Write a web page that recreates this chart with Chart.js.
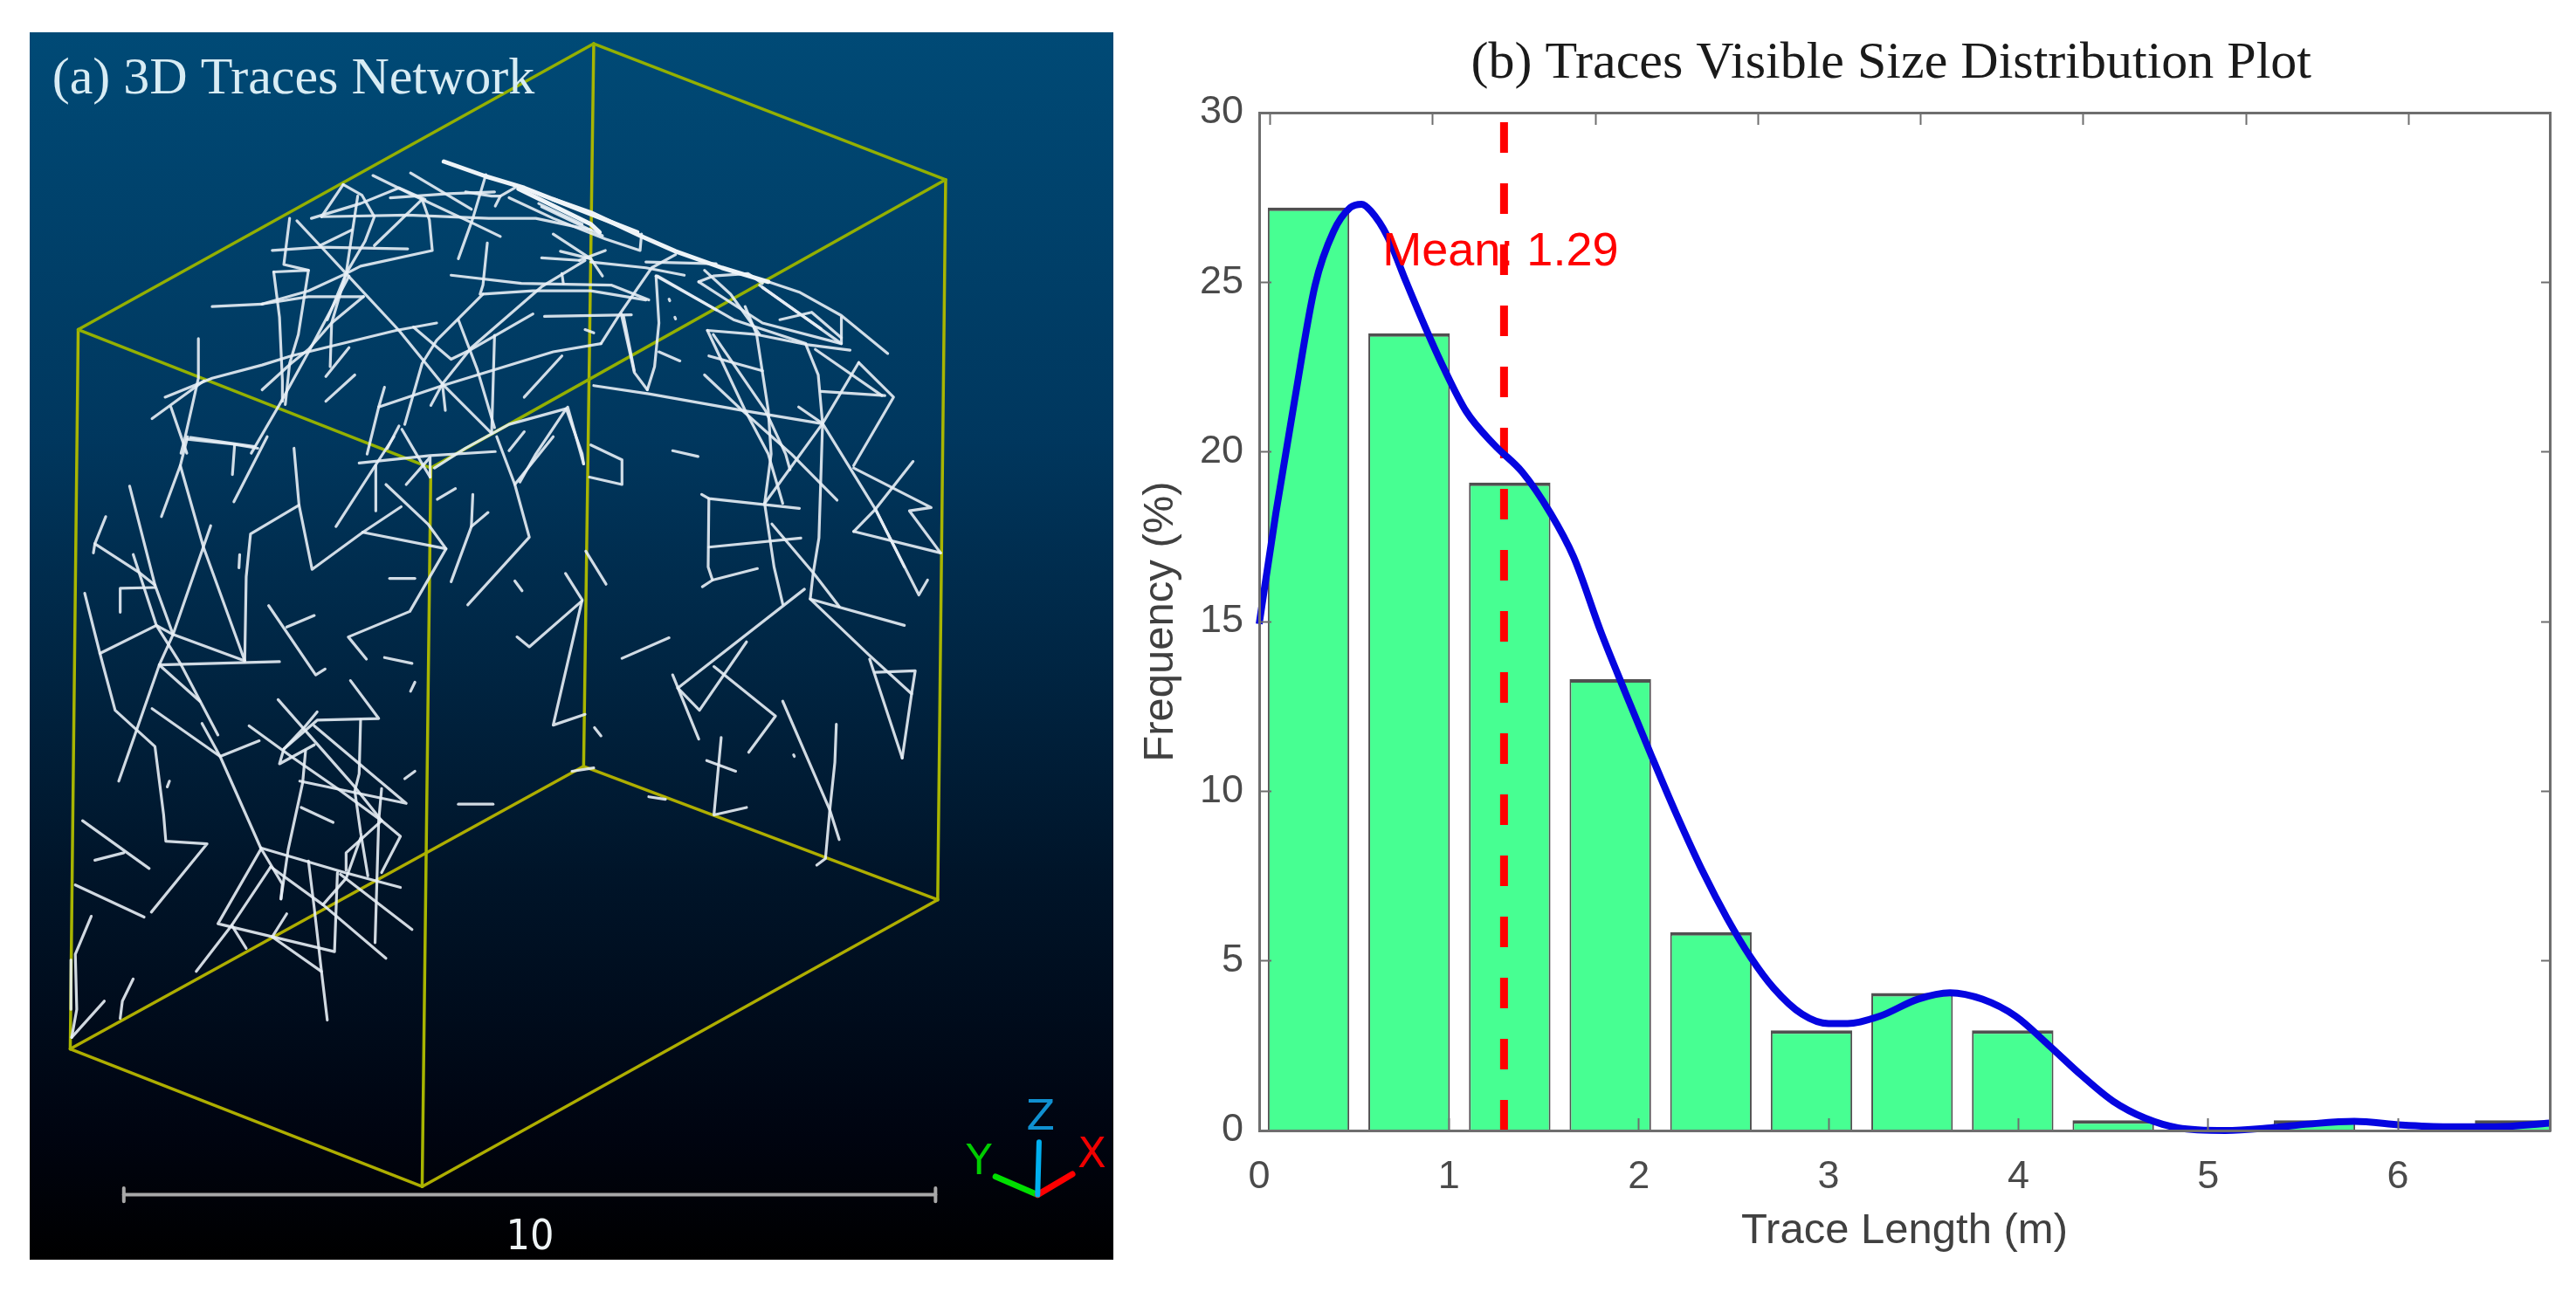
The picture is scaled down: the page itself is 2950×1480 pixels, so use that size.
<!DOCTYPE html>
<html>
<head>
<meta charset="utf-8">
<title>Traces network and size distribution</title>
<script src="https://cdn.jsdelivr.net/npm/chart.js@4/dist/chart.umd.min.js"></script>
<style>
  html, body { margin: 0; padding: 0; background: #fff; overflow: hidden; }
  #wrap { position: relative; width: 2950px; height: 1480px; }
  #netChart { position: absolute; left: 34px; top: 37px;
    background: linear-gradient(to bottom, #004a76 0%, #00375e 33%, #00152a 68%, #000410 90%, #000 100%); }
  #distChart { position: absolute; left: 1290px; top: 0; }
</style>
</head>
<body>
<div id="wrap">
  <canvas id="netChart" width="1241" height="1406"></canvas>
  <canvas id="distChart" width="1660" height="1480"></canvas>
</div>
<script>
/* ── (b) 히스토그램 데이터 ── */
const binCenters = [0.26, 0.79, 1.32, 1.85, 2.38, 2.91, 3.44, 3.97, 4.50, 5.03, 5.56, 6.09, 6.62];
const binFreq    = [27.2, 23.5, 19.1, 13.3, 5.85, 2.95, 4.05, 2.95, 0.3, 0, 0.3, 0, 0.3];
const curveX = [0, 0.088, 0.186, 0.294, 0.392, 0.48, 0.54, 0.588, 0.676, 0.775, 0.873, 0.97, 1.09, 1.24, 1.387, 1.534, 1.657, 1.80, 1.926,
  2.07, 2.196, 2.34, 2.466, 2.59, 2.71, 2.86, 3.0, 3.10, 3.27, 3.47, 3.64, 3.81, 3.985, 4.157, 4.33, 4.50, 4.67, 4.84, 5.09, 5.33, 5.53, 5.77, 6.02, 6.26, 6.51, 6.8];
const curveY = [14.93, 18.2, 21.5, 24.9, 26.5, 27.2, 27.3, 27.1, 26.35, 25.0, 23.7, 22.5, 21.2, 20.2, 19.4, 18.2, 16.9, 14.7, 12.95,
  11.0, 9.35, 7.6, 6.25, 5.1, 4.2, 3.43, 3.15, 3.15, 3.37, 3.87, 4.06, 3.87, 3.37, 2.53, 1.64, 0.86, 0.36, 0.08, 0, 0.08, 0.19, 0.27, 0.16, 0.11, 0.11, 0.22];
const meanValue = 1.29;
const xTicks = [0, 1, 2, 3, 4, 5, 6];
const yTicks = [0, 5, 10, 15, 20, 25, 30];

/* ── (a) 3D 네트워크 데이터 (화면 좌표 단위) ── */
const boxTop     = [[[820,53],[1306,218]], [[820,53],[108,400]], [[108,400],[595,568]], [[595,568],[1306,218]]];
const boxPillars = [[[108,400],[97,1273]], [[595,568],[583,1440]], [[1306,218],[1295,1092]], [[820,53],[806,930]]];
const boxBottom  = [[[97,1273],[583,1440]], [[583,1440],[1295,1092]], [[97,1273],[806,930]], [[806,930],[1295,1092]]];
const scaleBar   = [[[171,1450],[1292,1450]], [[171,1442],[171,1458]], [[1292,1442],[1292,1458]]];
const axisOrigin = [1433, 1450];
const axisZ = [1435, 1386];
const axisY = [1375, 1428];
const axisX = [1481, 1425];

// 윗면 능선의 두꺼운 띠
const ridgeLines = [
  [[613,196],[671,214],[724,228],[764,242],[816,258],[884,286],[933,305],[997,325],[1061,342]],
  [[764,242],[880,282]],
  [[716,229],[816,272],[828,282]]
];

const traceLines = [
  // 윗면 능선 주변
  [[1061,342],[1105,355],[1162,383],[1226,429]],
  [[703,240],[764,265],[836,290],[884,304],[886,284]],
  [[744,247],[804,272]],
  [[748,251],[832,286]],
  [[515,213],[571,237],[651,270],[691,287]],
  [[567,210],[651,254]],
  // 윗면 왼쪽
  [[474,224],[444,263]],
  [[474,224],[500,237],[517,263],[504,293],[478,332],[452,388]],
  [[444,263],[563,261],[675,265],[740,265],[816,279]],
  [[430,265],[498,247],[551,228],[587,242]],
  [[539,240],[619,235],[683,233]],
  [[583,242],[517,298]],
  [[583,242],[593,267],[597,304],[498,323],[478,332],[426,353],[362,369]],
  [[494,238],[478,332],[458,392],[456,445]],
  [[410,268],[442,298],[478,332],[551,401],[611,466],[679,526]],
  [[400,265],[392,321],[426,328]],
  [[376,304],[442,300],[563,302]],
  [[442,298],[486,279]],
  [[378,330],[426,328],[412,406],[400,441],[394,491]],
  [[378,330],[386,385],[390,462],[390,487]],
  [[362,369],[426,360],[502,360]],
  [[293,372],[362,369]],
  [[482,335],[428,424],[386,491],[347,550]],
  [[502,360],[458,392],[426,424],[402,441],[362,473]],
  [[228,482],[293,459],[362,443],[402,432],[547,401],[603,392]],
  [[482,422],[450,457]],
  [[490,455],[450,487]],
  [[531,470],[523,494],[507,551]],
  [[523,494],[611,468],[764,427],[830,417]],
  [[571,397],[623,436],[651,424],[736,381]],
  [[611,466],[651,422],[748,348],[808,316]],
  [[633,388],[659,448],[683,519]],
  [[667,357],[603,413],[583,441],[559,515]],
  [[673,295],[667,346],[663,357]],
  [[671,212],[653,265],[633,314]],
  [[623,334],[720,344],[844,346],[896,364]],
  [[667,357],[736,353],[816,353],[892,364]],
  [[752,384],[872,382]],
  [[748,313],[800,316]],
  [[764,284],[816,314],[832,335]],
  [[774,305],[816,314]],
  [[836,304],[800,316]],
  [[776,332],[778,344]],
  [[816,318],[892,325],[945,334]],
  [[892,318],[989,320]],
  [[933,309],[900,325],[856,381],[830,417]],
  [[858,381],[876,452],[894,473]],
  [[906,335],[910,392],[904,445],[894,473]],
  [[906,335],[989,376]],
  [[910,427],[939,438]],
  [[820,468],[896,478],[1025,498],[1134,514]],
  [[776,432],[724,482]],
  [[808,400],[820,404]],
  [[924,363],[925,365]],
  [[932,385],[933,387]],
  [[782,496],[703,515],[643,544],[600,568]],
  [[782,496],[740,551],[718,585]],
  [[782,496],[804,551],[806,563]],
  [[724,524],[703,547]],
  [[611,466],[595,492]],
  [[611,466],[615,498]],
  [[551,517],[535,544]],
  [[555,521],[575,551],[594,579]],
  [[683,407],[679,526]],
  [[274,411],[274,459],[255,533],[250,550]],
  [[210,508],[282,462]],
  [[236,494],[258,550]],
  [[263,531],[352,542]],
  [[684,250],[691,238]],
  [[643,233],[679,238],[691,238],[711,228]],
  // 윗면 오른쪽
  [[965,342],[985,335],[1033,332],[1053,344]],
  [[965,342],[1053,392],[1162,417]],
  [[973,328],[1009,357],[1049,406]],
  [[1049,346],[1162,417],[1162,385]],
  [[1053,349],[1134,399]],
  [[1029,372],[1045,406],[1061,498],[1065,551],[1056,611]],
  [[908,335],[1013,388],[1113,417]],
  [[1077,388],[1121,379],[1162,410]],
  [[977,401],[1045,406],[1113,418],[1174,425]],
  [[977,401],[1029,498],[1061,551],[1081,611]],
  [[985,406],[1057,498],[1085,551],[1091,570]],
  [[979,432],[1053,450]],
  [[973,455],[1025,498],[1093,551],[1156,607]],
  [[1113,418],[1130,455],[1136,514],[1131,653],[1123,696],[1119,727],[1199,794],[1259,842],[1246,920]],
  [[1126,424],[1218,480]],
  [[1134,475],[1222,480]],
  [[1186,440],[1234,482],[1179,565]],
  [[1186,440],[1136,514],[1056,611]],
  [[1103,494],[1136,514],[1209,618],[1249,688]],
  [[1179,568],[1286,616],[1256,620],[1299,671]],
  [[1261,560],[1209,618],[1179,645]],
  [[929,547],[964,554]],
  [[816,540],[859,558],[859,588],[814,579]],
  [[784,494],[806,563]],
  [[861,383],[876,450]],
  // 왼쪽 면 중간
  [[406,544],[413,613],[431,691],[501,646],[554,615]],
  [[413,613],[346,648],[340,700],[338,802]],
  [[533,588],[591,636],[616,666],[566,742],[481,773],[506,800]],
  [[501,646],[616,666]],
  [[179,590],[214,710],[239,770]],
  [[249,565],[281,664],[338,802]],
  [[291,638],[239,770],[220,807],[164,948]],
  [[223,627],[249,565],[259,530]],
  [[146,627],[131,660],[191,694],[214,710]],
  [[131,660],[129,671]],
  [[184,673],[216,759],[249,805],[301,892]],
  [[166,743],[166,714],[214,713]],
  [[117,720],[138,793],[159,862],[214,906],[226,989],[229,1021],[286,1024],[209,1107]],
  [[138,793],[216,759],[239,770],[338,802]],
  [[220,807],[386,803]],
  [[220,807],[276,851]],
  [[210,860],[304,918],[360,1029]],
  [[279,878],[304,918]],
  [[304,918],[358,899]],
  [[371,735],[436,819],[449,812]],
  [[396,761],[434,747]],
  [[538,702],[573,702]],
  [[531,798],[569,805]],
  [[573,828],[567,839]],
  [[484,826],[523,872],[438,874],[392,909]],
  [[331,673],[330,689]],
  [[234,948],[231,955]],
  [[653,600],[651,639],[623,706]],
  [[674,622],[651,639]],
  [[686,530],[711,588],[731,652],[646,734]],
  [[604,606],[629,593]],
  [[561,588],[594,555],[594,579]],
  [[711,705],[721,717]],
  [[714,773],[731,785],[804,729]],
  [[781,696],[804,728],[764,880],[808,867]],
  [[496,562],[594,553],[684,548]],
  [[519,565],[519,620]],
  [[464,639],[544,530]],
  [[259,533],[321,539],[356,544]],
  [[324,540],[321,576]],
  [[369,530],[323,609]],
  [[711,588],[764,530]],
  [[114,996],[206,1054]],
  [[131,1044],[171,1035]],
  // 왼쪽 면 아래 (조밀한 구간)
  [[384,849],[490,955],[527,996]],
  [[438,864],[420,883],[392,909],[386,927],[434,904]],
  [[344,881],[402,918],[466,957],[527,996],[553,1015],[527,1059]],
  [[434,881],[561,975],[414,948]],
  [[422,911],[418,950],[398,1031],[388,1091]],
  [[498,874],[496,939],[490,960],[498,1010],[508,1063]],
  [[527,957],[523,996],[518,1144]],
  [[527,996],[478,1035],[478,1056]],
  [[416,980],[460,998]],
  [[559,945],[573,936]],
  [[633,976],[681,976]],
  [[360,1029],[476,1059],[553,1077]],
  [[360,1029],[390,1073],[388,1091]],
  [[360,1031],[301,1121],[462,1155],[466,1059]],
  [[374,1052],[320,1123],[271,1179]],
  [[320,1123],[340,1151]],
  [[374,1052],[446,1098],[533,1163]],
  [[426,1045],[434,1102],[444,1179],[452,1238]],
  [[376,1137],[444,1179]],
  [[396,1109],[376,1137]],
  [[470,1061],[569,1128]],
  [[446,1098],[478,1066],[498,1017]],
  // 왼쪽 면 맨 아래
  [[104,1074],[199,1113]],
  [[126,1112],[104,1158],[106,1225],[99,1259]],
  [[99,1259],[144,1215]],
  [[184,1188],[169,1215],[166,1236]],
  [[98,1165],[98,1225]],
  // 오른쪽 면 아래
  [[809,669],[837,709]],
  [[859,799],[924,774]],
  [[929,819],[965,897]],
  [[936,835],[1111,715]],
  [[936,835],[966,862],[1031,779]],
  [[986,809],[1071,869],[1034,913]],
  [[1081,851],[1146,983],[1159,1019]],
  [[1155,879],[1153,925],[1146,983],[1140,1042],[1128,1050]],
  [[996,895],[986,989],[1031,980]],
  [[976,923],[1016,936]],
  [[896,967],[919,970]],
  [[821,883],[830,893]],
  [[1096,916],[1097,918]],
  [[790,936],[820,932]],
  [[969,600],[979,605],[1104,617]],
  [[979,605],[978,688],[984,704],[970,712]],
  [[984,704],[1046,690]],
  [[979,664],[1106,653]],
  [[1056,611],[1069,688],[1081,733]],
  [[1066,636],[1124,696],[1159,736]],
  [[1119,727],[1249,759]],
  [[1201,800],[1246,920]],
  [[1209,816],[1264,814],[1259,842]],
  [[1179,645],[1299,671]],
  [[1209,618],[1269,722],[1281,704]]
];

const SANS  = '"Liberation Sans", Arial, sans-serif';
const SERIF = '"Liberation Serif", "Times New Roman", serif';

/* ── 화면 좌표 → {x, y} ── */
function toXY(line) {
  return line.map(p => ({ x: p[0], y: p[1] }));
}

function lineSet(line, color, width) {
  return { data: toXY(line), showLine: true, borderColor: color, borderWidth: width,
    pointRadius: 0, borderCapStyle: 'round', borderJoinStyle: 'round' };
}

/* ── 스케일 값 기준으로 글자 찍기 ── */
function putText(chart, text, xv, yv, font, color, align) {
  const c = chart.ctx;
  c.save();
  c.font = font;
  c.fillStyle = color;
  c.textAlign = align || 'left';
  c.textBaseline = 'alphabetic';
  c.fillText(text, chart.scales.x.getPixelForValue(xv), chart.scales.y.getPixelForValue(yv));
  c.restore();
}

/* ── (a) 3D Traces Network ── */
const netLabels = {
  id: 'netLabels',
  afterDatasetsDraw(chart) {
    putText(chart, '(a) 3D Traces Network', 72, 113, '60px ' + SERIF, '#d8ecf4');
    putText(chart, '10', 732, 1516, '48px "DejaVu Sans Condensed", "DejaVu Sans", sans-serif', '#eef4f6', 'center');
    putText(chart, 'Z', 1437, 1371, '48px "DejaVu Sans", sans-serif', '#1090d0', 'center');
    putText(chart, 'Y', 1352, 1425, '48px "DejaVu Sans", sans-serif', '#00cc00', 'center');
    putText(chart, 'X', 1508, 1417, '48px "DejaVu Sans", sans-serif', '#f00000', 'center');
  }
};

new Chart(document.getElementById('netChart'), {
  type: 'scatter',
  data: {
    datasets: [
      lineSet([axisOrigin, axisZ], '#00b0f0', 6),
      lineSet([axisOrigin, axisX], '#ff0000', 7),
      lineSet([axisOrigin, axisY], '#00e000', 7),
      ...scaleBar.map(l => lineSet(l, '#a8a8a8', 4)),
      ...ridgeLines.map(l => lineSet(l, '#eef4f8', 5)),
      ...traceLines.map(l => lineSet(l, 'rgba(232,240,246,0.9)', 3.2)),
      ...boxTop.map(l => lineSet(l, '#93b000', 3.5)),
      ...boxPillars.map(l => lineSet(l, '#a8b500', 3.5)),
      ...boxBottom.map(l => lineSet(l, '#aeae00', 3.5))
    ]
  },
  options: {
    responsive: false,
    animation: false,
    layout: { padding: 0 },
    plugins: { legend: { display: false }, tooltip: { enabled: false } },
    scales: {
      x: { type: 'linear', display: false, min: 41, max: 1537.6 },
      y: { type: 'linear', display: false, reverse: true, min: 39.2, max: 1528.8 }
    }
  },
  plugins: [netLabels]
});

/* ── (b) Traces Visible Size Distribution Plot ── */
const distLabels = {
  id: 'distLabels',
  afterDatasetsDraw(chart) {
    putText(chart, '(b) Traces Visible Size Distribution Plot', 3.33, 31.03, '60px ' + SERIF, '#1a1a1a', 'center');
    putText(chart, 'Mean: 1.29', 0.65, 25.5, '54px ' + SANS, '#ff0000');
  }
};

const GREY = '#6e6e6e';
const tickFont = { family: '"Liberation Sans"', size: 45 };
const titleFont = { family: '"Liberation Sans"', size: 49 };

new Chart(document.getElementById('distChart'), {
  type: 'bar',
  data: {
    datasets: [
      { type: 'line', data: curveX.map((x, i) => ({ x, y: curveY[i] })), order: 0,
        borderColor: '#0505e0', borderWidth: 8, pointRadius: 0, cubicInterpolationMode: 'monotone', clip: false },
      { type: 'line', data: [{ x: meanValue, y: 0 }, { x: meanValue, y: 30 }], order: 1,
        borderColor: '#ff0000', borderWidth: 9, borderDash: [35, 35], pointRadius: 0 },
      { type: 'bar', data: binCenters.map((x, i) => ({ x, y: binFreq[i] })), order: 2,
        backgroundColor: '#47ff92', borderColor: '#505050',
        borderWidth: { top: 4, left: 2, right: 2, bottom: 0 },
        barPercentage: 0.81, categoryPercentage: 1 }
    ]
  },
  options: {
    responsive: false,
    animation: false,
    layout: { padding: { left: 0, top: 129, right: 30, bottom: 0 } },
    plugins: { legend: { display: false }, tooltip: { enabled: false } },
    scales: {
      x: {
        type: 'linear', position: 'bottom', offset: false, min: 0, max: 6.8,
        afterBuildTicks: s => { s.ticks = xTicks.map(v => ({ value: v })); },
        afterFit: s => { s.height = 185; },
        grid: { drawOnChartArea: false, tickLength: -14, tickColor: GREY, tickWidth: 2, offset: false, z: 1 },
        border: { color: GREY, width: 3, z: 1 },
        ticks: { font: tickFont, color: '#4a4a4a', padding: 41, maxRotation: 0 },
        title: { display: true, text: 'Trace Length (m)', font: titleFont, color: '#404040', padding: { top: 16, bottom: 40 } }
      },
      y: {
        type: 'linear', position: 'left', min: 0, max: 30,
        afterBuildTicks: s => { s.ticks = yTicks.map(v => ({ value: v })); },
        afterFit: s => { s.width = 152; },
        grid: { drawOnChartArea: false, tickLength: -14, tickColor: GREY, tickWidth: 2, z: 1 },
        border: { color: GREY, width: 3, z: 1 },
        ticks: { font: tickFont, color: '#4a4a4a', padding: 32 },
        title: { display: true, text: 'Frequency (%)', font: titleFont, color: '#404040', padding: { top: 10, bottom: 0 } }
      },
      x2: {
        type: 'linear', position: 'top', min: 0, max: 6.8,
        afterBuildTicks: s => { s.ticks = xTicks.map(v => ({ value: v })); },
        afterFit: s => { s.height = 0; },
        grid: { drawOnChartArea: false, tickLength: -14, tickColor: GREY, tickWidth: 2, z: 1 },
        border: { color: GREY, width: 3, z: 1 },
        ticks: { display: false }
      },
      y2: {
        type: 'linear', position: 'right', min: 0, max: 30,
        afterBuildTicks: s => { s.ticks = yTicks.map(v => ({ value: v })); },
        afterFit: s => { s.width = 0; },
        grid: { drawOnChartArea: false, tickLength: -10, tickColor: GREY, tickWidth: 2, z: 1 },
        border: { color: GREY, width: 3, z: 1 },
        ticks: { display: false }
      }
    }
  },
  plugins: [distLabels]
});
</script>
</body>
</html>
